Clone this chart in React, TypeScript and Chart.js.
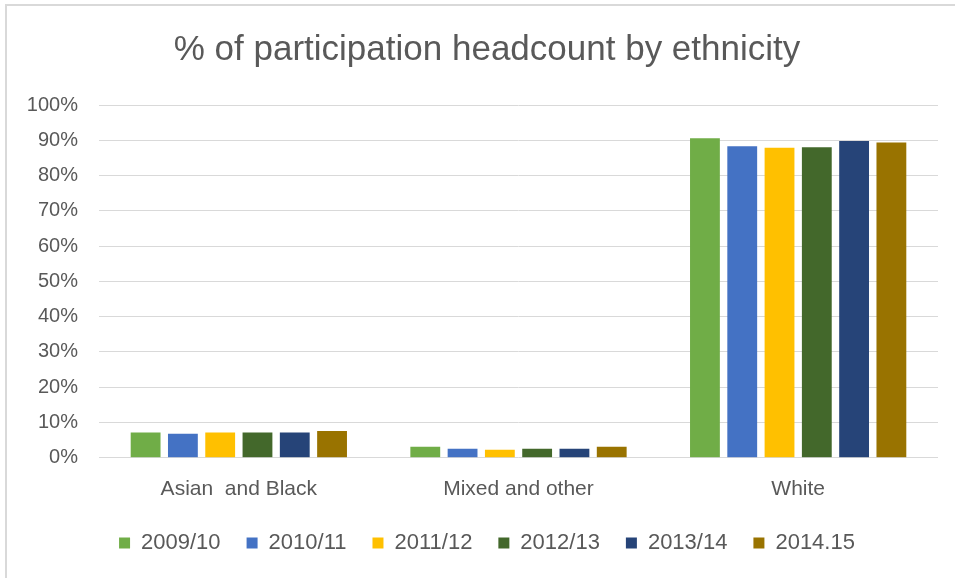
import React, { useEffect, useRef } from "react";
import { Chart, registerables } from "chart.js";

Chart.register(...registerables);

const categories = ["Asian  and Black", "Mixed and other", "White"];
const seriesLabels = ["2009/10", "2010/11", "2011/12", "2012/13", "2013/14", "2014.15"];
const s2009 = [7.2, 3.1, 90.6];
const s2010 = [6.8, 2.6, 88.3];
const s2011 = [7.2, 2.3, 87.9];
const s2012 = [7.2, 2.6, 88.0];
const s2013 = [7.2, 2.6, 89.8];
const s2014 = [7.6, 3.1, 89.4];
const seriesValues = [s2009, s2010, s2011, s2012, s2013, s2014];
const seriesColors = ["#70AD47", "#4472C4", "#FFC000", "#43682B", "#264478", "#997300"];
const yTicks = [0, 10, 20, 30, 40, 50, 60, 70, 80, 90, 100];

const FONT = "'Liberation Sans', Arial, sans-serif";
const TEXT = "#595959";

// lets the y tick labels extend into the left layout padding without being clipped
const unclipYLabels = {
  id: "unclipYLabels",
  afterLayout(chart: any) {
    if (chart.scales && chart.scales.y) chart.scales.y.left = 0;
  },
};

export default function App() {
  const ref = useRef<HTMLCanvasElement | null>(null);

  useEffect(() => {
    if (!ref.current) return;
    const chart = new Chart(ref.current, {
      type: "bar",
      data: {
        labels: categories,
        datasets: seriesLabels.map((label, i) => ({
          label,
          data: seriesValues[i],
          backgroundColor: seriesColors[i],
          borderWidth: 0,
          categoryPercentage: 0.8,
          barPercentage: 0.8,
        })),
      },
      plugins: [unclipYLabels],
      options: {
        animation: false,
        responsive: false,
        maintainAspectRatio: false,
        devicePixelRatio: 1,
        layout: { padding: { left: 36, right: 36, top: 0, bottom: 0 } },
        plugins: {
          title: {
            display: true,
            text: "% of participation headcount by ethnicity",
            color: TEXT,
            font: { family: FONT, size: 35, weight: "normal" },
            padding: { top: 29, bottom: 34 },
          },
          legend: {
            display: true,
            position: "bottom",
            labels: {
              color: TEXT,
              font: { family: FONT, size: 22 },
              boxWidth: 11,
              boxHeight: 11,
              padding: 26,
            },
          },
          tooltip: { enabled: false },
        },
        scales: {
          x: {
            grid: { display: false, drawTicks: true, tickLength: 15 },
            border: { display: false },
            ticks: {
              color: TEXT,
              font: { family: FONT, size: 21 },
              padding: 4,
              maxRotation: 0,
            },
          },
          y: {
            min: 0,
            max: 100,
            afterFit: (scale: any) => {
              scale.width = 63;
            },
            afterBuildTicks: (scale: any) => {
              scale.ticks = yTicks.map((v) => ({ value: v }));
            },
            grid: { color: "#d9d9d9", lineWidth: 1, drawTicks: false },
            border: { display: false },
            ticks: {
              color: TEXT,
              font: { family: FONT, size: 20 },
              padding: 21,
              callback: (v: any) => v + "%",
            },
          },
        },
      },
    });
    return () => chart.destroy();
  }, []);

  return (
    <div
      style={{
        position: "fixed",
        left: 0,
        top: 0,
        width: 955,
        height: 578,
        overflow: "hidden",
        background: "#ffffff",
      }}
    >
      <div
        style={{
          position: "absolute",
          left: 5,
          top: 4,
          width: 1000,
          height: 600,
          borderLeft: "2px solid #d9d9d9",
          borderTop: "2px solid #d9d9d9",
        }}
      />
      <canvas
        ref={ref}
        width={974}
        height={564}
        style={{ position: "absolute", left: 0, top: 0, width: 974, height: 564 }}
      />
    </div>
  );
}
